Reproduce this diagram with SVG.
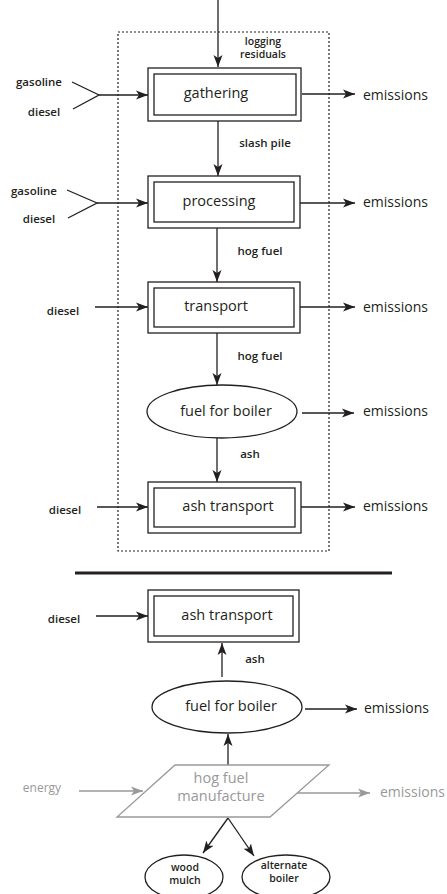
<svg xmlns="http://www.w3.org/2000/svg" width="447" height="894" viewBox="0 0 447 894">
<defs>
<marker id="ah" markerUnits="userSpaceOnUse" markerWidth="13" markerHeight="10" refX="12" refY="5" orient="auto">
<path d="M0,0.5 L12,5 L0,9.5 L3,5 z" fill="#231f20"/>
</marker>
<marker id="ahg" markerUnits="userSpaceOnUse" markerWidth="13" markerHeight="10" refX="12" refY="5" orient="auto">
<path d="M0,0.5 L12,5 L0,9.5 L3,5 z" fill="#999"/>
</marker>
<style>
.ln{stroke:#231f20;stroke-width:1.3;fill:none}
.arr{stroke:#231f20;stroke-width:1.3;fill:none;marker-end:url(#ah)}
.garr{stroke:#999;stroke-width:1.3;fill:none;marker-end:url(#ahg)}
.box{stroke:#231f20;stroke-width:1.3;fill:#fff}
.t{font-family:"Open Sans","Noto Sans",sans-serif;font-size:14.5px;fill:#231f20;text-anchor:middle}
.e{font-family:"Open Sans","Noto Sans",sans-serif;font-size:14px;fill:#231f20}
.s{font-family:"Open Sans","Noto Sans",sans-serif;font-size:11.5px;font-weight:600;fill:#231f20;text-anchor:middle}
.s2{font-family:"Open Sans","Noto Sans",sans-serif;font-size:10.5px;font-weight:600;fill:#231f20;text-anchor:middle}
.g{fill:#999}
</style>
</defs>
<rect x="118" y="32" width="211" height="519" fill="none" stroke="#231f20" stroke-width="1.2" stroke-dasharray="2,2"/>
<line x1="75" y1="573" x2="392" y2="573" stroke="#231f20" stroke-width="3"/>
<g id="connectors">
<line class="arr" x1="218" y1="0" x2="218" y2="67"/>
<line class="arr" x1="218" y1="121" x2="218" y2="176"/>
<line class="arr" x1="217" y1="228" x2="217" y2="282"/>
<line class="arr" x1="217" y1="333" x2="217" y2="385"/>
<line class="arr" x1="217" y1="438" x2="217" y2="482"/>
<line class="arr" x1="222" y1="677" x2="222" y2="643"/>
<line class="arr" x1="228" y1="765" x2="228" y2="734"/>
<polyline class="ln" points="72,82 99,95 73,109"/>
<line class="arr" x1="99" y1="95" x2="148" y2="95"/>
<polyline class="ln" points="67,190 97,203 68,218"/>
<line class="arr" x1="97" y1="203" x2="148" y2="203"/>
<line class="arr" x1="95" y1="307" x2="148" y2="307"/>
<line class="arr" x1="97" y1="507" x2="148" y2="507"/>
<line class="arr" x1="96" y1="616" x2="148" y2="616"/>
<line class="arr" x1="302" y1="94" x2="355" y2="94"/>
<line class="arr" x1="300" y1="203" x2="355" y2="203"/>
<line class="arr" x1="300" y1="307" x2="355" y2="307"/>
<line class="arr" x1="302" y1="413" x2="354" y2="413"/>
<line class="arr" x1="301" y1="507" x2="355" y2="507"/>
<line class="arr" x1="305" y1="709" x2="357" y2="709"/>
<line class="garr" x1="79" y1="791" x2="143" y2="791"/>
<line class="garr" x1="297" y1="793" x2="370" y2="793"/>
<line class="arr" x1="228" y1="818" x2="203" y2="853"/>
<line class="arr" x1="228" y1="818" x2="254" y2="856"/>
</g>
<g id="gathering">
<rect class="box" x="148" y="68" width="153" height="53"/>
<rect class="box" x="154" y="74" width="142" height="41"/>
<text class="t" x="216" y="98">gathering</text>
</g>
<g id="processing">
<rect class="box" x="148" y="176" width="152" height="52"/>
<rect class="box" x="154" y="182" width="140" height="40"/>
<text class="t" x="219" y="206">processing</text>
</g>
<g id="transport">
<rect class="box" x="148" y="282" width="152" height="51"/>
<rect class="box" x="154" y="288" width="140" height="39"/>
<text class="t" x="216" y="311">transport</text>
</g>
<g id="fuel-boiler-1">
<ellipse class="box" cx="222" cy="411.5" rx="75" ry="26.5"/>
<text class="t" x="226" y="416">fuel for boiler</text>
</g>
<g id="ash-transport-1">
<rect class="box" x="148" y="482" width="153" height="51"/>
<rect class="box" x="154" y="488" width="141" height="39"/>
<text class="t" x="228" y="511">ash transport</text>
</g>
<g id="ash-transport-2">
<rect class="box" x="148" y="590" width="151" height="52"/>
<rect class="box" x="154" y="596" width="139" height="40"/>
<text class="t" x="227" y="620">ash transport</text>
</g>
<g id="fuel-boiler-2">
<ellipse class="box" cx="227" cy="707" rx="75" ry="26"/>
<text class="t" x="231" y="711">fuel for boiler</text>
</g>
<g id="hog-fuel-manufacture">
<polygon points="175,765 329,765 270,817 117,817" fill="#fff" stroke="#999" stroke-width="1.3"/>
<text class="t g" x="221" y="783">hog fuel</text>
<text class="t g" x="221" y="801">manufacture</text>
</g>
<g id="wood-mulch">
<ellipse class="box" cx="184" cy="877" rx="39" ry="22"/>
<text class="s2" x="185" y="871">wood</text>
<text class="s2" x="185" y="884">mulch</text>
</g>
<g id="alternate-boiler">
<ellipse class="box" cx="286" cy="877" rx="44" ry="22"/>
<text class="s2" x="284" y="869">alternate</text>
<text class="s2" x="284" y="882">boiler</text>
</g>
<g id="labels">
<text class="s2" x="263" y="45">logging</text>
<text class="s2" x="263" y="58">residuals</text>
<text class="s" x="265" y="147">slash pile</text>
<text class="s" x="260" y="255">hog fuel</text>
<text class="s" x="260" y="360">hog fuel</text>
<text class="s" x="250" y="458">ash</text>
<text class="s" x="255" y="663">ash</text>
<text class="s" x="39" y="86">gasoline</text>
<text class="s" x="44" y="116">diesel</text>
<text class="s" x="34" y="195">gasoline</text>
<text class="s" x="39" y="223">diesel</text>
<text class="s" x="63" y="315">diesel</text>
<text class="s" x="65" y="514">diesel</text>
<text class="s" x="64" y="623">diesel</text>
<text class="s g" x="42" y="792" style="font-weight:400;font-size:12px">energy</text>
<text class="e" x="363" y="100">emissions</text>
<text class="e" x="363" y="207">emissions</text>
<text class="e" x="363" y="312">emissions</text>
<text class="e" x="363" y="416">emissions</text>
<text class="e" x="363" y="511">emissions</text>
<text class="e" x="364" y="713">emissions</text>
<text class="e g" x="380" y="797">emissions</text>
</g>
</svg>
